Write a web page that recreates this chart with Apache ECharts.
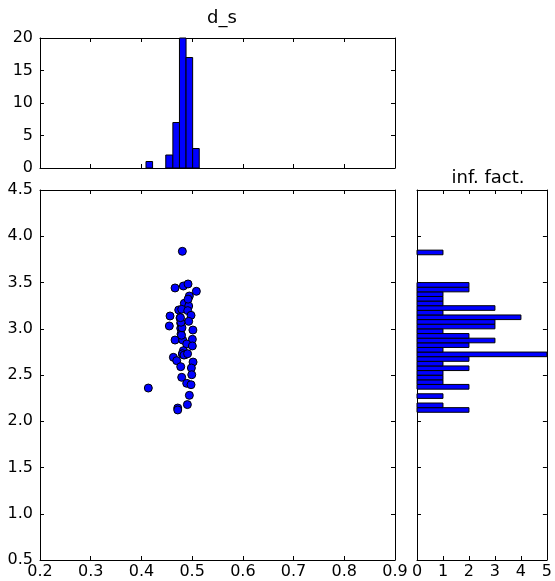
<!DOCTYPE html>
<html><head><meta charset="utf-8">
<script src="https://cdn.jsdelivr.net/npm/echarts@6.0.0/dist/echarts.min.js"></script>
<style>html,body{margin:0;padding:0;background:#fff}#c{width:555px;height:581px}</style>
</head><body><div id="c"></div>
<script>
// scatter values (d_s, inf. fact.)
const dsValues = [0.4807,0.4663,0.4827,0.4919,0.5083,0.4945,0.4846,0.4932,0.4735,0.4794,
  0.4913,0.4564,0.4761,0.4978,0.4932,0.4775,0.4550,0.4775,0.5015,0.4780,
  0.4663,0.4814,0.5004,0.4893,0.5004,0.4827,0.4860,0.4807,0.4630,0.4696,
  0.5018,0.4775,0.4985,0.4992,0.4794,0.4893,0.4978,0.4136,0.4945,0.4906,
  0.4716,0.4716,0.4810,0.4840,0.4910,0.4790,0.4800,0.4780,0.4770,0.4920];
const infValues = [3.837,3.441,3.462,3.484,3.405,3.354,3.275,3.246,3.203,3.210,
  3.196,3.138,3.116,3.145,3.080,3.059,3.030,3.005,2.986,2.943,
  2.878,2.878,2.886,2.835,2.814,2.763,2.720,2.727,2.691,2.655,
  2.640,2.590,2.576,2.503,2.475,2.410,2.395,2.359,2.280,2.180,
  2.143,2.122,2.730,2.715,2.730,2.930,3.010,3.070,3.120,3.320];
// top histogram (d_s)
const dsBinEdges = [0.409,0.422,0.435,0.448,0.462,0.475,0.488,0.501,0.514];
const dsCounts = [1,0,0,2,7,20,17,3];
// right histogram (inf. fact.)
const infBinEdges = [2.097,2.147,2.197,2.247,2.297,2.347,2.398,2.448,2.498,2.548,
  2.598,2.648,2.698,2.748,2.798,2.848,2.898,2.948,2.999,3.049,
  3.099,3.149,3.199,3.249,3.299,3.349,3.399,3.449,3.499,3.550,
  3.600,3.650,3.700,3.750,3.800,3.850];
const infCounts = [2,1,0,1,0,2,1,1,1,2,1,2,5,1,2,3,2,1,3,3,4,1,3,1,1,1,2,2,0,0,0,0,0,0,1];
// axis tick settings
const dsAxisMin = 0.2, dsAxisMax = 0.9, dsAxisStep = 0.1;
const infAxisMin = 0.5, infAxisMax = 4.5, infAxisStep = 0.5;
const countTopMax = 20, countTopStep = 5;
const countRightMax = 5, countRightStep = 1;

const FONT = 'DejaVu Sans';
const FS = 16;
const lineStyle = {color:'#000', width:1};
function ax(o){
  return Object.assign({
    type:'value', scale:false,
    axisLine:{show:true, onZero:false, lineStyle},
    axisTick:{show:true, inside:true, length:4, lineStyle},
    axisLabel:{show:false, color:'#000', fontSize:FS, fontFamily:FONT},
    splitLine:{show:false}
  }, o);
}
const fmt1 = v => v.toFixed(1);
const xAxis = [
  ax({gridIndex:0, position:'bottom', min:dsAxisMin, max:dsAxisMax, interval:dsAxisStep}),
  ax({gridIndex:0, position:'top', min:dsAxisMin, max:dsAxisMax, interval:dsAxisStep}),
  ax({gridIndex:1, position:'bottom', min:dsAxisMin, max:dsAxisMax, interval:dsAxisStep,
      axisLabel:{show:true, color:'#000', fontSize:FS, fontFamily:FONT, margin:4, formatter:fmt1}}),
  ax({gridIndex:1, position:'top', min:dsAxisMin, max:dsAxisMax, interval:dsAxisStep}),
  ax({gridIndex:2, position:'bottom', min:0, max:countRightMax, interval:countRightStep,
      axisLabel:{show:true, color:'#000', fontSize:FS, fontFamily:FONT, margin:4}}),
  ax({gridIndex:2, position:'top', min:0, max:countRightMax, interval:countRightStep})
];
const yAxis = [
  ax({gridIndex:0, position:'left', min:0, max:countTopMax, interval:countTopStep,
      axisLabel:{show:true, color:'#000', fontSize:FS, fontFamily:FONT, margin:7}}),
  ax({gridIndex:0, position:'right', min:0, max:countTopMax, interval:countTopStep}),
  ax({gridIndex:1, position:'left', min:infAxisMin, max:infAxisMax, interval:infAxisStep,
      axisLabel:{show:true, color:'#000', fontSize:FS, fontFamily:FONT, margin:7, formatter:fmt1}}),
  ax({gridIndex:1, position:'right', min:infAxisMin, max:infAxisMax, interval:infAxisStep}),
  ax({gridIndex:2, position:'left', min:infAxisMin, max:infAxisMax, interval:infAxisStep}),
  ax({gridIndex:2, position:'right', min:infAxisMin, max:infAxisMax, interval:infAxisStep})
];
const barStyle = {fill:'#0000ff', stroke:'#000', lineWidth:1};
const topData = dsCounts.map((c,i)=>[dsBinEdges[i], dsBinEdges[i+1], c]);
const rightData = infCounts.map((c,i)=>[c, infBinEdges[i], infBinEdges[i+1]]);

const option = {
  animation:false,
  backgroundColor:'#fff',
  title:[
    {text:'d_s', left:217, top:4, textAlign:'center',
     textStyle:{fontFamily:FONT, fontSize:18, fontWeight:'normal', color:'#000'}},
    {text:'inf. fact.', left:483, top:164, textAlign:'center',
     textStyle:{fontFamily:FONT, fontSize:18, fontWeight:'normal', color:'#000'}}
  ],
  grid:[
    {left:40, top:38, width:355, height:130},
    {left:40, top:190, width:355, height:370},
    {left:417, top:190, width:132, height:370}
  ],
  xAxis, yAxis,
  series:[
    {type:'custom', xAxisIndex:0, yAxisIndex:0, data:topData, encode:{x:[0,1], y:2},
     renderItem:(params, api)=>{
       if(api.value(2) <= 0) return null;
       const p1 = api.coord([api.value(0), api.value(2)]);
       const p2 = api.coord([api.value(1), 0]);
       return {type:'rect', shape:{x:p1[0], y:p1[1], width:p2[0]-p1[0], height:p2[1]-p1[1]}, style:barStyle};
     }},
    {type:'scatter', xAxisIndex:2, yAxisIndex:2,
     data: dsValues.map((v,i)=>[v, infValues[i]]),
     symbol:'circle', symbolSize:8,
     itemStyle:{color:'#0000ff', borderColor:'#000', borderWidth:1, opacity:1}},
    {type:'custom', xAxisIndex:4, yAxisIndex:4, data:rightData, encode:{x:0, y:[1,2]},
     renderItem:(params, api)=>{
       if(api.value(0) <= 0) return null;
       const p1 = api.coord([0, api.value(2)]);
       const p2 = api.coord([api.value(0), api.value(1)]);
       return {type:'rect', shape:{x:p1[0], y:p1[1], width:p2[0]-p1[0], height:p2[1]-p1[1]}, style:barStyle};
     }}
  ]
};
const chart = echarts.init(document.getElementById('c'), null, {renderer:'canvas'});
chart.setOption(option);
</script>
</body></html>
